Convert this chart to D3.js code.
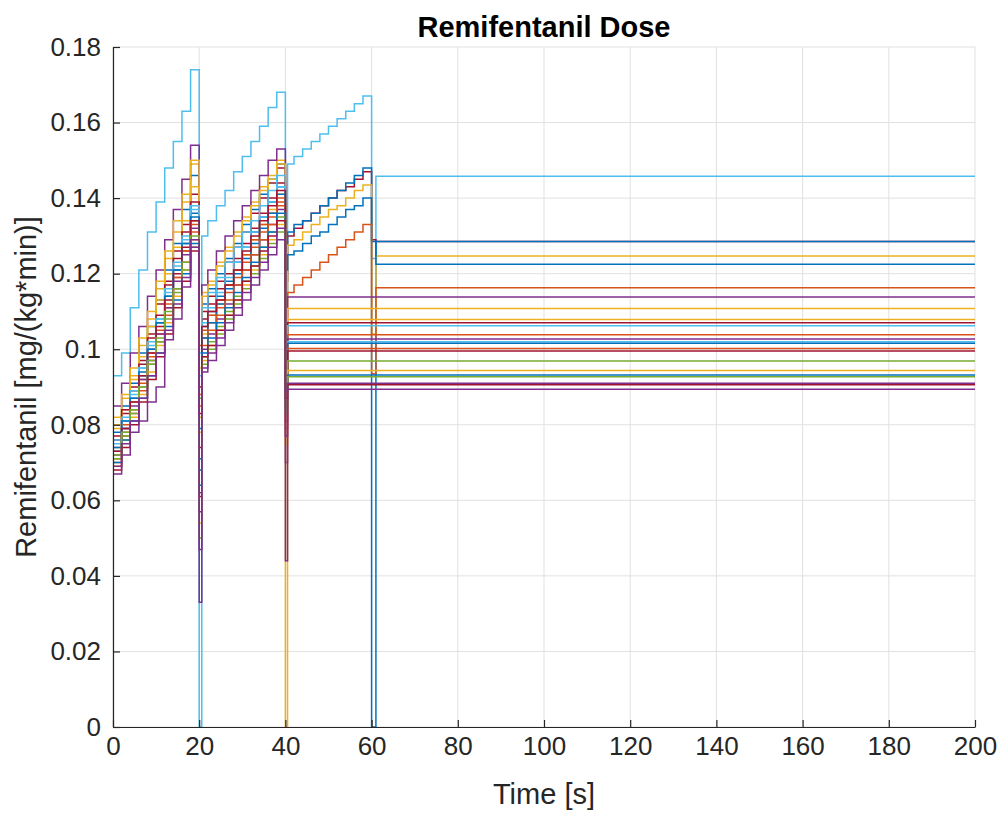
<!DOCTYPE html>
<html>
<head>
<meta charset="utf-8">
<script src="https://cdnjs.cloudflare.com/ajax/libs/d3/7.8.5/d3.min.js"></script>
<style>
  body { margin: 0; background: #fff; }
  text { font-family: "Liberation Sans", Arial, Helvetica, sans-serif; }
</style>
</head>
<body>
<div class="chart"></div>
<script>
// step times of each 20 s block
var firstTimes = [0, 2, 4, 6, 8, 10, 12, 14, 16, 18];
var secondTimes = [20.6, 22, 24, 26, 28, 30, 32, 34, 36, 38];
var thirdTimes = [40.5, 42, 44, 46, 48, 50, 52, 54, 56, 58];
var dipTimes = [20, 40, 60];
var settleEarly = 40.5;   // patients that stop after the 2nd block
var settleLate = 61;      // patients that continue to 60 s
var endTime = 200;

var xTicks = [0, 20, 40, 60, 80, 100, 120, 140, 160, 180, 200];
var yTicks = [0, 0.02, 0.04, 0.06, 0.08, 0.1, 0.12, 0.14, 0.16, 0.18];
var yTickLabels = ["0", "0.02", "0.04", "0.06", "0.08", "0.1", "0.12", "0.14", "0.16", "0.18"];

// dose during 0-20 s (one row per patient)
var firstBlock = [
  [.093, .099, .111, .121, .131, .139, .148, .155, .163, .174],
  [.076, .083, .090, .097, .104, .112, .118, .126, .133, .141],
  [.078, .085, .091, .099, .106, .113, .121, .128, .137, .146],
  [.080, .087, .093, .101, .108, .116, .124, .131, .139, .149],
  [.073, .079, .087, .093, .100, .107, .114, .121, .128, .136],
  [.071, .078, .084, .091, .098, .104, .111, .119, .126, .134],
  [.085, .091, .099, .106, .114, .121, .129, .137, .145, .154],
  [.082, .088, .095, .103, .110, .118, .126, .134, .141, .150],
  [.079, .084, .092, .098, .106, .113, .120, .127, .134, .143],
  [.077, .084, .089, .096, .103, .109, .117, .124, .131, .139],
  [.075, .081, .088, .095, .102, .108, .115, .122, .130, .138],
  [.074, .080, .086, .092, .099, .105, .112, .119, .126, .133],
  [.072, .079, .085, .092, .097, .104, .111, .118, .125, .132],
  [.076, .082, .089, .095, .101, .108, .116, .123, .129, .137],
  [.074, .081, .087, .094, .100, .107, .114, .121, .128, .135],
  [.070, .077, .083, .089, .096, .102, .109, .116, .123, .131],
  [.073, .079, .086, .093, .099, .106, .113, .120, .127, .134],
  [.071, .077, .084, .090, .097, .103, .110, .116, .123, .130],
  [.069, .076, .082, .088, .094, .101, .107, .114, .121, .129],
  [.070, .076, .081, .087, .093, .099, .106, .113, .120, .128],
  [.072, .078, .083, .090, .096, .102, .108, .115, .121, .127],
  [.068, .074, .080, .086, .092, .098, .104, .111, .118, .126],
  [.067, .072, .078, .081, .086, .090, .1025, .108, .1165, .129],
  [.069, .075, .081, .087, .093, .099, .105, .112, .119, .127]
];

// short dip at 20 s
var dipAt20 = [0, .061, .064, .082, .071, .088, .057, .095, .078, .090, .099, .085,
               .062, .093, .068, .101, .074, .087, .054, .079, .050, .083, .033, .047];

// dose during 20-40 s
var secondBlock = [
  [.130, .134, .138, .142, .147, .151, .155, .159, .164, .168],
  [.110, .114, .118, .123, .127, .131, .136, .140, .144, .148],
  [.112, .116, .120, .124, .128, .133, .137, .141, .145, .149],
  [.115, .118, .123, .127, .131, .135, .139, .143, .146, .150],
  [.106, .110, .114, .118, .123, .127, .131, .135, .139, .143],
  [.103, .107, .111, .115, .119, .123, .127, .131, .135, .139],
  [.117, .121, .126, .130, .134, .138, .142, .146, .150, .153],
  [.114, .117, .122, .126, .130, .134, .138, .142, .145, .149],
  [.104, .109, .112, .117, .121, .125, .129, .133, .137, .141],
  [.108, .112, .116, .120, .124, .128, .132, .136, .140, .144],
  [.111, .115, .119, .123, .127, .131, .134, .138, .142, .146],
  [.105, .109, .113, .117, .121, .125, .129, .133, .136, .140],
  [.100, .104, .108, .112, .117, .121, .125, .129, .133, .137],
  [.107, .111, .115, .119, .123, .127, .131, .135, .139, .143],
  [.103, .107, .112, .116, .120, .124, .128, .132, .136, .141],
  [.101, .105, .109, .113, .117, .121, .125, .129, .133, .138],
  [.106, .110, .113, .117, .121, .126, .130, .134, .138, .142],
  [.098, .102, .106, .110, .114, .118, .122, .127, .131, .135],
  [.097, .101, .105, .109, .113, .117, .121, .125, .129, .133],
  [.099, .103, .107, .111, .115, .119, .123, .127, .131, .136],
  [.096, .100, .104, .108, .112, .116, .120, .124, .128, .131],
  [.098, .101, .105, .109, .113, .118, .122, .126, .130, .134],
  [.094, .097, .101, .105, .109, .113, .117, .121, .125, .129],
  [.095, .099, .103, .107, .111, .115, .119, .123, .127, .132]
];

// short dip at 40 s
var dipAt40 = [.128, .118, .114, .109, .121, .104, .070, 0, .088, .095, .101, .092,
               .081, .097, .086, .079, .090, .084, .075, .089, .083, .087, .077, .044];

// dose during 40-60 s, only the first six patients
var thirdBlock = [
  [.149, .151, .153, .155, .157, .159, .161, .163, .165, .167],
  [.130, .132, .134, .136, .138, .140, .142, .143, .145, .147],
  [.131, .133, .134, .136, .138, .140, .142, .144, .146, .148],
  [.1275, .129, .131, .133, .135, .137, .138, .140, .142, .1435],
  [.125, .126, .128, .130, .131, .133, .135, .137, .138, .140],
  [.115, .117, .119, .121, .123, .125, .127, .129, .131, .133]
];

var dipAt60 = [.124, .129, 0, .104, .1285, .0935];

// maintenance dose to the end
var finalDose = [.1458, .1285, .1285, .1247, .1225, .1163,
                 .1138, .1108, .1079, .1070, .1062, .1038, .1027, .1020, .1016,
                 .1002, .0995, .0969, .0944, .0932, .0927, .0906, .0910, .0894];

// matlab default line colours
var colorOrder = ["#0072BD", "#D95319", "#EDB120", "#7E2F8E", "#77AC30", "#4DBEEE", "#A2142F"];
var seriesColor = [5, 6, 0, 2, 0, 1, 3, 2, 2, 6, 5, 1, 3, 5, 0, 1, 6, 4, 2, 0, 4, 6, 3, 3];

var svgWidth = 1003;
var svgHeight = 814;
var margin = { top: 47, right: 28, bottom: 87, left: 113 };
var width = svgWidth - margin.left - margin.right;
var height = svgHeight - margin.top - margin.bottom;

var svg = d3.select(".chart")
  .append("svg")
  .attr("width", svgWidth)
  .attr("height", svgHeight);

var chartGroup = svg.append("g")
  .attr("transform", `translate(${margin.left}, ${margin.top})`);

var xScale = d3.scaleLinear().domain([0, 200]).range([0, width]);
var yScale = d3.scaleLinear().domain([0, 0.18]).range([height, 0]);

// grid
chartGroup.append("g").selectAll("line")
  .data(xTicks)
  .enter()
  .append("line")
  .attr("x1", d => xScale(d)).attr("x2", d => xScale(d))
  .attr("y1", 0).attr("y2", height)
  .attr("stroke", "#e1e1e1").attr("stroke-width", 1);

chartGroup.append("g").selectAll("line")
  .data(yTicks)
  .enter()
  .append("line")
  .attr("x1", 0).attr("x2", width)
  .attr("y1", d => yScale(d)).attr("y2", d => yScale(d))
  .attr("stroke", "#e1e1e1").attr("stroke-width", 1);

// build each stairs trace
var traces = firstBlock.map(function(row, i) {
  var pts = [];
  firstTimes.forEach((t, k) => pts.push([t, row[k]]));
  pts.push([dipTimes[0], dipAt20[i]]);
  secondTimes.forEach((t, k) => pts.push([t, secondBlock[i][k]]));
  pts.push([dipTimes[1], dipAt40[i]]);
  if (i < thirdBlock.length) {
    thirdTimes.forEach((t, k) => pts.push([t, thirdBlock[i][k]]));
    pts.push([dipTimes[2], dipAt60[i]]);
    pts.push([settleLate, finalDose[i]]);
  } else {
    pts.push([settleEarly, finalDose[i]]);
  }
  pts.push([endTime, finalDose[i]]);
  return { pts: pts, color: colorOrder[seriesColor[i]] };
});

var line = d3.line()
  .x(d => xScale(d[0]))
  .y(d => yScale(d[1]))
  .curve(d3.curveStepAfter);

chartGroup.append("g").selectAll("path")
  .data(traces)
  .enter()
  .append("path")
  .attr("d", d => line(d.pts))
  .attr("fill", "none")
  .attr("stroke", d => d.color)
  .attr("stroke-width", 1.5);

// axes
var xAxis = d3.axisBottom(xScale).tickValues(xTicks).tickSize(-7).tickPadding(10).tickSizeOuter(0);
var yAxis = d3.axisLeft(yScale).tickValues(yTicks).tickSize(-7).tickPadding(12).tickSizeOuter(0)
  .tickFormat((d, i) => yTickLabels[i]);

var xg = chartGroup.append("g")
  .attr("transform", `translate(0, ${height})`)
  .call(xAxis);
var yg = chartGroup.append("g").call(yAxis);

[xg, yg].forEach(function(g) {
  g.select(".domain").attr("stroke", "#262626").attr("stroke-width", 1.2);
  g.selectAll(".tick line").attr("stroke", "#262626").attr("stroke-width", 1.2);
  g.selectAll(".tick text").attr("fill", "#262626").style("font-size", "26px");
});

// labels
svg.append("text")
  .attr("x", margin.left + width / 2)
  .attr("y", 37)
  .attr("text-anchor", "middle")
  .attr("font-weight", "bold")
  .attr("fill", "#000")
  .style("font-size", "29px")
  .text("Remifentanil Dose");

svg.append("text")
  .attr("x", margin.left + width / 2)
  .attr("y", 804)
  .attr("text-anchor", "middle")
  .attr("fill", "#262626")
  .style("font-size", "29px")
  .text("Time [s]");

svg.append("text")
  .attr("transform", `translate(36, ${margin.top + height / 2}) rotate(-90)`)
  .attr("text-anchor", "middle")
  .attr("fill", "#262626")
  .style("font-size", "29px")
  .text("Remifentanil [mg/(kg*min)]");
</script>
</body>
</html>
